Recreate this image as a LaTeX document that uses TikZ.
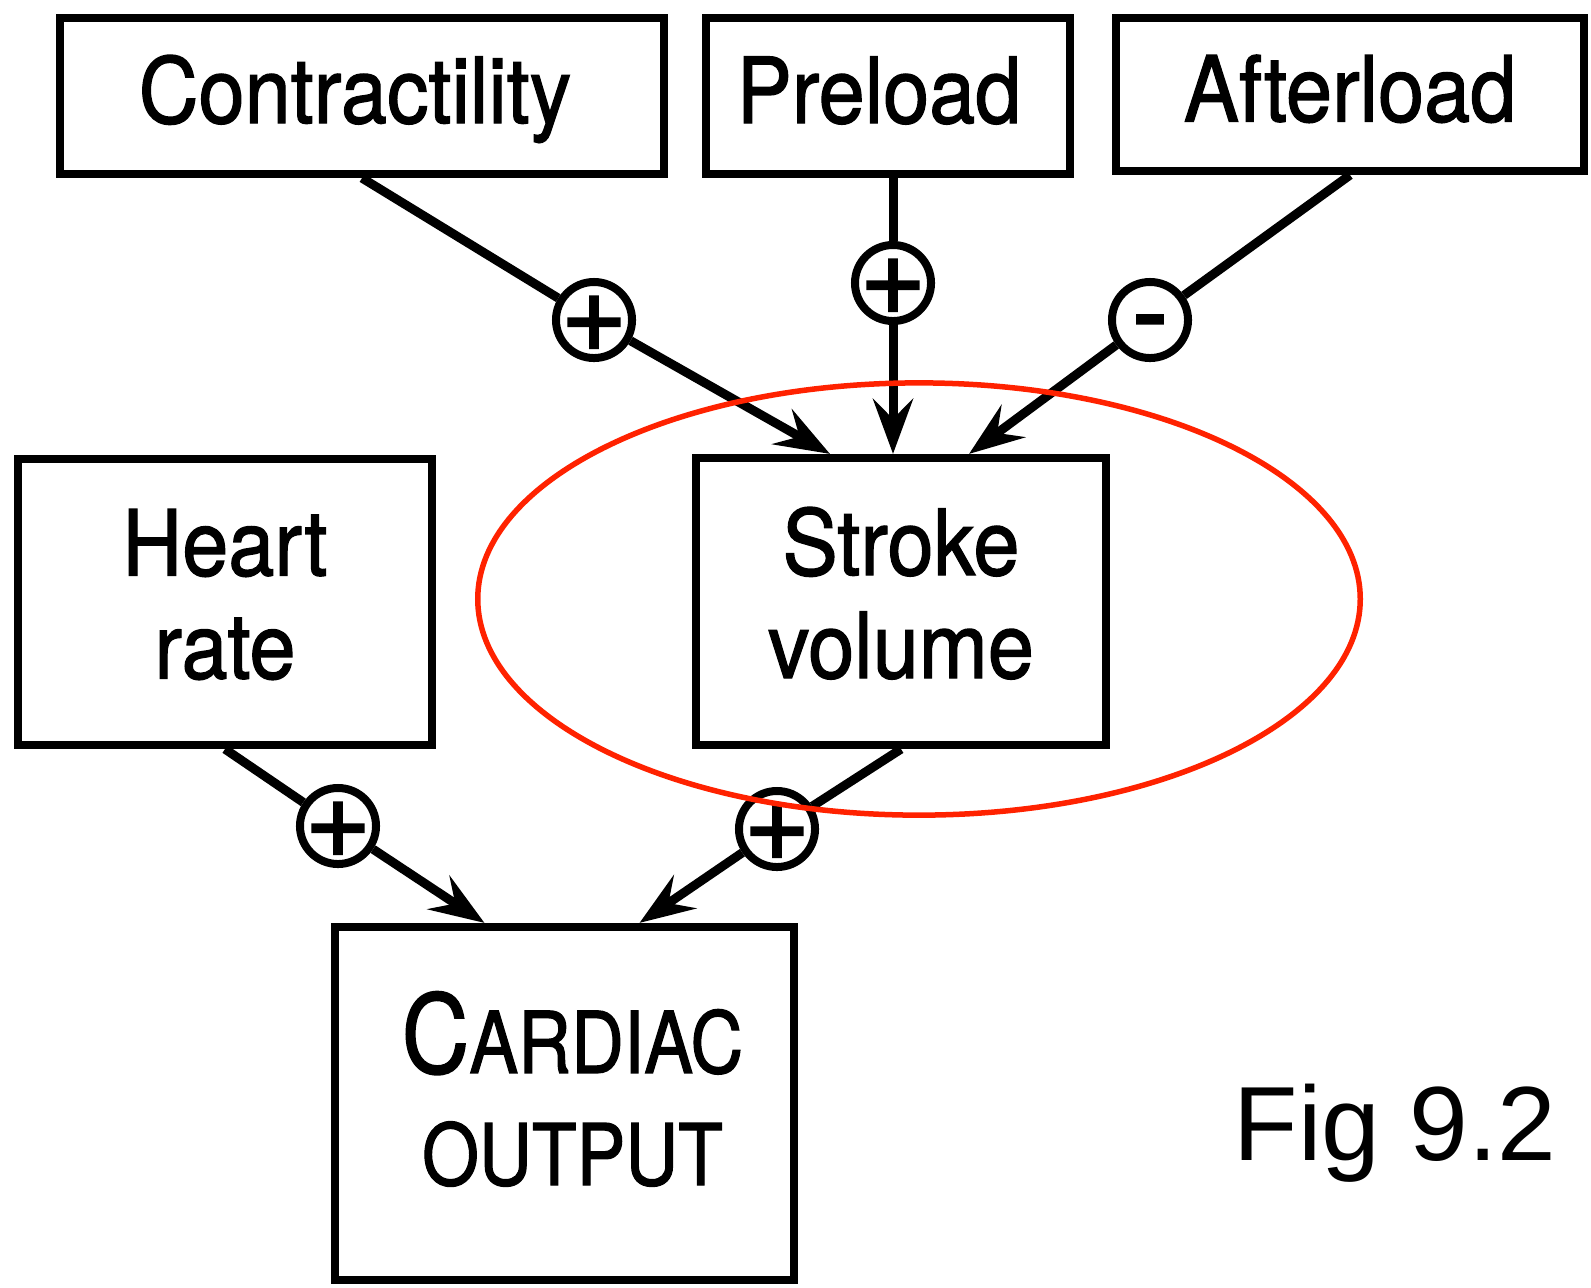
\documentclass[tikz,border=0pt]{standalone}
\usepackage{fontspec}
\usepackage{graphicx}
\setmainfont{Liberation Sans}
\newfontfamily\heros[FakeBold=1.5]{TeX Gyre Heros}
\newfontfamily\signfont[FakeBold=2]{Liberation Sans}
\usetikzlibrary{arrows.meta,calc}
\definecolor{ellred}{RGB}{255,34,0}
\newcommand\hsq[1]{\scalebox{0.91}[1]{#1}}
\newcommand\csq[1]{\scalebox{0.86}[1]{#1}}
\begin{document}
\begin{tikzpicture}[x=0.01cm,y=-0.01cm,
  box/.style={draw, line width=0.08cm, inner sep=0pt, align=center,
    font=\heros\fontsize{25.9}{29.3}\selectfont},
  topbox/.style={box, text height=0.66cm, text depth=0.12cm},
  twobox/.style={box, text height=1.70cm, text depth=0.17cm},
  sign/.style={circle, draw, line width=0.08cm, minimum size=0.76cm, inner sep=0pt,
    fill=white, font=\signfont\fontsize{30}{30}\selectfont},
  conn/.style={line width=0.09cm},
  arr/.style={conn, -{Stealth[length=0.55cm,width=0.4cm,inset=0.2cm]}},
]
\fill[white] (0,0) rectangle (1591,1287);
% boxes
\node[topbox, minimum width=6.04cm, minimum height=1.56cm] (contr) at (362,96) {\hspace*{-0.14cm}\hsq{Contractility}};
\node[topbox, minimum width=3.64cm, minimum height=1.56cm] (pre) at (888,96) {\hspace*{-0.18cm}\hsq{Preload}};
\node[topbox, minimum width=4.67cm, minimum height=1.53cm] (aft) at (1350,94.5) {\hsq{Afterload}};
\node[twobox, minimum width=4.14cm, minimum height=2.86cm] (hr) at (225,602) {\hsq{Heart}\\\hsq{rate}};
\node[twobox, minimum width=4.10cm, minimum height=2.87cm] (sv) at (901,601.5) {\hsq{Stroke}\\\hsq{volume}};
\node[box, minimum width=4.59cm, minimum height=3.53cm, text height=1.80cm, text depth=0.17cm,
  font=\heros\fontsize{24.2}{31.9}\selectfont] (co) at (564.5,1103.5)
  {\hspace*{0.16cm}\csq{{\fontsize{31}{31}\selectfont C}ARDIAC}\\\hspace*{0.16cm}\csq{OUTPUT}};
% signs
\node[sign] (c1) at (594,320) {\smash{\raisebox{-0.354em}{+}}};
\node[sign] (c2) at (893,283) {\smash{\raisebox{-0.354em}{+}}};
\node[sign] (c3) at (1150,320) {\smash{\raisebox{-0.26em}{-}}};
\node[sign] (c4) at (338,826) {\smash{\raisebox{-0.354em}{+}}};
\node[sign] (c5) at (777,829) {\smash{\raisebox{-0.354em}{+}}};
% connectors
\draw[conn] (contr.south) -- (c1);
\draw[arr] (c1) -- ($(sv.north)+(-71,0)$);
\draw[conn] (c2 |- pre.south) -- (c2);
\draw[arr] (c2) -- (c2 |- sv.north);
\draw[conn] (aft.south) -- (c3);
\draw[arr] (c3) -- ($(sv.north)+(68,0)$);
\draw[conn] (hr.south) -- (c4);
\draw[arr] (c4) -- ($(co.north)+(-80,0)$);
\draw[conn] (sv.south) -- (c5);
\draw[arr] (c5) -- ($(co.north)+(75,0)$);
% highlight
\draw[ellred, line width=0.055cm] (919,599) ellipse [x radius=4.41cm, y radius=2.16cm];
% caption
\node[anchor=base west, inner sep=0pt, font=\fontsize{30}{36}\selectfont] (fig) at (1233,1160) {Fig 9.2};
\end{tikzpicture}
\end{document}
